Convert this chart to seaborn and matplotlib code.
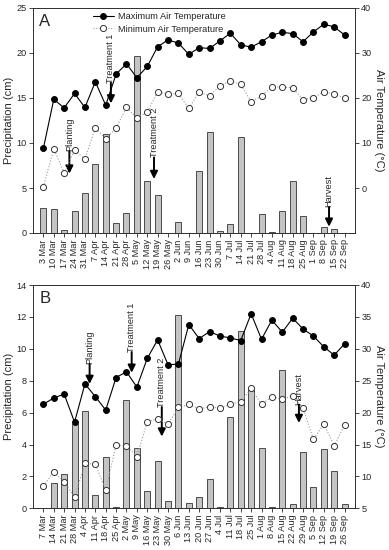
import numpy as np
import pandas as pd
import matplotlib
matplotlib.use("Agg")
import matplotlib.pyplot as plt
import seaborn as sns

# Panel A data (weekly)
dates_a = ["3 Mar", "10 Mar", "17 Mar", "24 Mar", "31 Mar", "7 Apr", "14 Apr", "21 Apr",
           "28 Apr", "5 May", "12 May", "19 May", "26 May", "2 Jun", "9 Jun", "16 Jun",
           "23 Jun", "30 Jun", "7 Jul", "14 Jul", "21 Jul", "28 Jul", "4 Aug", "11 Aug",
           "18 Aug", "25 Aug", "1 Sep", "8 Sep", "15 Sep", "22 Sep"]
precip_a = [2.8, 2.7, 0.3, 2.4, 4.4, 7.7, 11.0, 1.15, 2.25, 19.7, 5.75, 4.25, 0.0, 1.2, 0.0,
            6.9, 11.25, 0.25, 1.0, 10.7, 0.05, 2.1, 0.15, 2.45, 5.8, 1.9, 0.0, 0.65, 0.45, 0.0]
tmax_a = [8.8, 19.7, 17.8, 21.0, 17.9, 23.6, 18.4, 25.3, 27.6, 24.5, 27.0, 31.4, 32.9, 32.2, 29.7,
          31.2, 31.0, 32.7, 34.4, 31.8, 31.3, 32.5, 34.0, 34.6, 34.3, 32.5, 34.7, 36.4, 35.8, 34.0]
tmin_a = [0.2, 8.7, 3.4, 8.4, 6.4, 13.4, 10.9, 13.3, 17.9, 15.6, 16.8, 21.4, 20.9, 21.0, 17.7,
          21.3, 20.5, 22.7, 23.8, 23.0, 19.2, 20.4, 22.5, 22.4, 22.3, 19.6, 20.1, 21.3, 20.9, 19.9]

# Panel B data (weekly)
dates_b = ["7 Mar", "14 Mar", "21 Mar", "28 Mar", "4 Apr", "11 Apr", "18 Apr", "25 Apr",
           "2 May", "9 May", "16 May", "23 May", "30 May", "6 Jun", "13 Jun", "20 Jun",
           "27 Jun", "4 Jul", "11 Jul", "18 Jul", "25 Jul", "1 Aug", "8 Aug", "15 Aug",
           "22 Aug", "29 Aug", "5 Sep", "12 Sep", "19 Sep", "26 Sep"]
precip_b = [0.0, 1.6, 2.13, 5.28, 6.1, 0.83, 3.24, 0.1, 6.8, 3.8, 1.1, 2.98, 0.48, 12.1, 0.35,
            0.7, 1.82, 0.06, 5.7, 11.1, 7.5, 3.76, 0.06, 8.67, 0.27, 3.5, 1.32, 3.72, 2.34, 0.27]
tmax_b = [21.3, 22.3, 22.9, 18.5, 24.5, 22.5, 20.4, 25.5, 26.4, 24.0, 28.5, 31.4, 27.5, 27.6, 33.8,
          31.6, 32.7, 32.0, 31.7, 31.3, 35.5, 31.5, 34.5, 32.6, 34.8, 33.1, 32.0, 30.3, 29.0, 30.8]
tmin_b = [8.5, 10.7, 9.2, 6.7, 12.05, 11.9, 7.9, 14.9, 14.8, 13.1, 18.6, 19.0, 18.2, 20.8, 21.3,
          20.6, 20.9, 20.7, 21.3, 21.7, 23.8, 21.3, 22.5, 22.1, 22.6, 20.7, 15.8, 18.2, 14.8, 18.1]

# event labels: (week index, arrow start cm, arrow tip cm)
events_a = [("Planting", 2.5, 9.1, 6.6), ("Treatment 1", 6.5, 16.7, 14.4),
            ("Treatment 2", 10.65, 8.4, 6.0), ("Harvest", 27.5, 2.9, 0.7)]
events_b = [("Planting", 4.45, 9.05, 7.8), ("Treatment 1", 8.5, 9.8, 8.5),
            ("Treatment 2", 11.4, 6.35, 4.5), ("Harvest", 24.6, 6.5, 5.35)]

sns.set_style("ticks")
plt.rcParams['font.family'] = ['Liberation Sans', 'DejaVu Sans']
plt.rcParams['font.size'] = 6.5

fig = plt.figure(figsize=(3.89, 5.50), dpi=100)
L, W = 33 / 389, 322 / 389
axA = fig.add_axes([L, 1 - 233 / 550, W, 225 / 550])
axB = fig.add_axes([L, 1 - 508.3 / 550, W, 223.3 / 550])

bar_col = "#c4c4c4"
fs = 6.6


def panel(ax, dates, precip, tmax, tmin, events, ylim1, yt1, ylim2, yt2, tag, legend):
    df = pd.DataFrame({"date": dates, "precip": precip})
    sns.barplot(data=df, x="date", y="precip", color=bar_col, edgecolor="#333333",
                linewidth=0.6, width=0.58, saturation=1, ax=ax, zorder=1)
    ax.set_xlim(-1, len(dates))
    ax.set_ylim(*ylim1)
    ax.set_yticks(yt1)
    ax.set_xlabel("")
    ax.set_ylabel("Precipitation (cm)", fontsize=8, labelpad=2)
    ax.tick_params(axis="x", labelrotation=90, labelsize=fs, length=3, width=0.6, pad=1.5)
    ax.tick_params(axis="y", labelsize=fs, length=3, width=0.6, pad=1.5)
    for s in ax.spines.values():
        s.set_linewidth(0.7)
        s.set_color("#333333")

    ax2 = ax.twinx()
    idx = np.arange(len(dates))
    sns.lineplot(x=idx, y=tmax, ax=ax2, color="black", linewidth=0.8, marker="o",
                 markersize=4.2, markeredgecolor="black", label="Maximum Air Temperature",
                 legend=False)
    sns.lineplot(x=idx, y=tmin, ax=ax2, color="#9a9a9a", linewidth=0.8, linestyle=":",
                 marker="o", markersize=4.4, markerfacecolor="white",
                 markeredgecolor="#333333", markeredgewidth=0.7,
                 label="Minimum Air Temperature", legend=False)
    ax2.set_ylim(*ylim2)
    ax2.set_yticks(yt2)
    ax2.set_ylabel("Air Temperature (\u00b0C)", fontsize=8, rotation=270, labelpad=9)
    ax2.tick_params(axis="y", labelsize=fs, length=3, width=0.6, pad=1.5)
    for s in ax2.spines.values():
        s.set_linewidth(0.7)
        s.set_color("#333333")

    for name, xi, start, tip in events:
        ax.annotate("", xy=(xi, tip), xytext=(xi, start),
                    arrowprops=dict(arrowstyle="-|>", color="black", lw=1.4,
                                    mutation_scale=11, shrinkA=0, shrinkB=0), zorder=5)
        ax.text(xi, start, name, rotation=90, ha="center", va="bottom", fontsize=6.6)

    ax.text(0.02, 0.975, tag, transform=ax.transAxes, ha="left", va="top", fontsize=12)
    if legend:
        ax2.legend(loc="upper left", bbox_to_anchor=(0.165, 1.01), frameon=False,
                   fontsize=6.7, handlelength=2.3, handletextpad=0.4, labelspacing=0.35,
                   borderpad=0.2)
    return ax2


panel(axA, dates_a, precip_a, tmax_a, tmin_a, events_a, (0, 25), [0, 5, 10, 15, 20, 25],
      (-10, 40), [0, 10, 20, 30, 40], "A", True)
panel(axB, dates_b, precip_b, tmax_b, tmin_b, events_b, (0, 14), [0, 2, 4, 6, 8, 10, 12, 14],
      (5, 40), [5, 10, 15, 20, 25, 30, 35, 40], "B", False)

fig.savefig("out.png", dpi=100)
